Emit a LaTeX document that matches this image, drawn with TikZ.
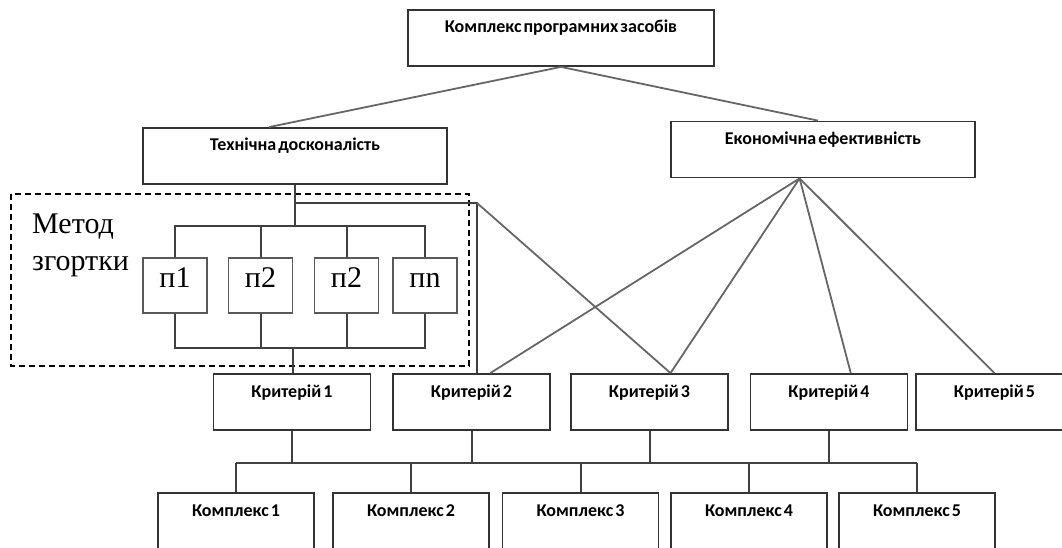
\documentclass[tikz,border=0pt]{standalone}
\usepackage{fontspec}
\setmainfont{Liberation Serif}
\newfontfamily\boxfont[WordSpace=0.5]{Carlito}
\usetikzlibrary{positioning}

\begin{document}
\begin{tikzpicture}[x=1pt, y=-1pt,
    blok/.style={draw=black!80, line width=1.8pt, inner sep=0pt, minimum height=56,
      text height=23, text depth=33, font=\boxfont\bfseries\fontsize{18}{21}\selectfont},
    pbox/.style={draw=black!65, line width=1.3pt, inner sep=0pt, minimum width=64, minimum height=55,
      text height=29, text depth=26, font=\fontsize{30}{36}\selectfont},
    lnk/.style={draw=black!75, line width=2pt},
    diag/.style={draw=black!60, line width=1.8pt}]
         \useasboundingbox (0,0) rectangle (1062,548);
         \clip (0,0) rectangle (1062,548);
         \node [blok, minimum width=306] (KPZ) at (561,38) {Комплекс програмних засобів};
         \node [blok, minimum width=304] (TD) at (295,156) {Технічна досконалість};
         \node [blok, minimum width=304] (EE) at (823,149.5) {Економічна ефективність};
         \foreach \x [count=\i] in {292,471.5,649.5,829,994.5}
            \node [blok, minimum width=157] (kr\i) at (\x,402) {Критерій \i};
         \foreach \x [count=\i] in {236,411,580.5,749,917}
            \node [blok, minimum width=156] (k\i) at (\x,521) {Комплекс \i};
         \node [pbox] (p1) at (175,285.5) {п1};
         \node [pbox] (p2) at (260.5,285.5) {п2};
         \node [pbox] (p3) at (346.5,285.5) {п2};
         \node [pbox] (pn) at (425,285.5) {пn};
         \node [anchor=base west, inner sep=0pt, font=\fontsize{30}{36}\selectfont] (met) at (32,233) {Метод};
         \node [anchor=base west, inner sep=0pt, font=\fontsize{30}{36}\selectfont] (zg) at (32,270) {згортки};
         \draw [black, line width=1.6pt, dash pattern=on 6pt off 4pt] (11,194) rectangle (469,366);
         \coordinate (up) at (295,226);
         \coordinate (dn) at (293,348);
         \coordinate (br) at (295,203);
         \coordinate (kk) at (477,203);
         \coordinate (bus) at (0,463);
         \draw [diag] (KPZ.south) -- (TD.132);
         \draw [diag] (KPZ.south) -- (EE.100);
         \draw [lnk] (TD.south) -- (up);
         \draw [lnk] (p1.north) -- (p1.north |- up) -- (pn.north |- up) -- (pn.north);
         \draw [lnk] (p2.north) -- (p2.north |- up);
         \draw [lnk] (p3.north) -- (p3.north |- up);
         \draw [lnk] (p1.south) -- (p1.south |- dn) -- (pn.south |- dn) -- (pn.south);
         \draw [lnk] (p2.south) -- (p2.south |- dn);
         \draw [lnk] (p3.south) -- (p3.south |- dn);
         \draw [lnk] (dn) -- (dn |- kr1.north);
         \draw [lnk] (br) -- (kk) -- (kk |- kr2.north);
         \draw [diag] (kk) -- (kr3.54);
         \draw [diag] (EE.231) -- (kr2.57);
         \draw [diag] (EE.231) -- (kr3.54);
         \draw [diag] (EE.231) -- (kr4.53);
         \draw [diag] (EE.231) -- (kr5.north);
         \foreach \i in {1,...,4}
            \draw [lnk] (kr\i.south) -- (kr\i.south |- bus);
         \draw [lnk] (k1.north |- bus) -- (k5.north |- bus);
         \foreach \i in {1,...,5}
            \draw [lnk] (k\i.north |- bus) -- (k\i.north);
 \end{tikzpicture}
\end{document}
